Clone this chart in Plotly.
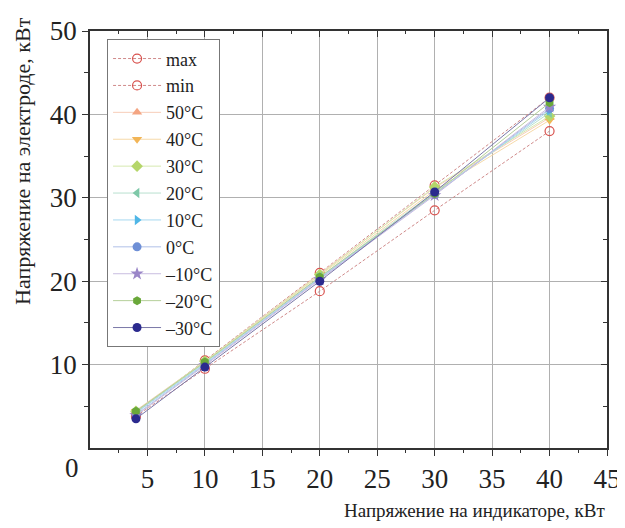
import plotly.graph_objects as go

x_vals = [4, 10, 20, 30, 40]

series_names = ["max", "min", "50°C", "40°C", "30°C", "20°C", "10°C", "0°C", "–10°C", "–20°C", "–30°C"]
max_vals = [4.2, 10.5, 21.0, 31.5, 42.0]
min_vals = [3.8, 9.5, 18.8, 28.5, 38.0]
t50 = [4.5, 10.4, 20.9, 31.2, 39.6]
t40 = [4.4, 10.3, 20.7, 30.9, 39.3]
t30 = [4.4, 10.4, 20.8, 31.3, 39.8]
t20 = [4.3, 10.2, 20.5, 30.7, 40.2]
t10 = [4.2, 10.1, 20.4, 30.5, 40.5]
t0 = [4.0, 10.0, 20.3, 30.4, 40.7]
tm10 = [3.9, 9.9, 20.2, 30.3, 40.9]
tm20 = [4.4, 10.3, 20.5, 30.5, 41.4]
tm30 = [3.5, 9.7, 20.0, 30.7, 42.0]

x_ticks = [5, 10, 15, 20, 25, 30, 35, 40, 45]
y_ticks = [10, 20, 30, 40, 50]
x_minor = [2.5, 7.5, 12.5, 17.5, 22.5, 27.5, 32.5, 37.5, 42.5]
y_minor = [5, 15, 25, 35, 45]

series_values = [max_vals, min_vals, t50, t40, t30, t20, t10, t0, tm10, tm20, tm30]
marker_colors = ["#d9534f", "#d9534f", "#f4a582", "#f2b556", "#b5d66a", "#7ec8a8",
                 "#4fb6e6", "#6e8fd6", "#9a86c8", "#6aa83a", "#2b2a8e"]
line_colors = ["#d08a8a", "#d08a8a", "#f7cdb8", "#f6d9a8", "#d6e9b0", "#b8e0cf",
               "#a6d8f0", "#b0c0e8", "#c9bde0", "#b5cf9a", "#7a78a8"]
symbols = ["circle-open", "circle-open", "triangle-up", "triangle-down", "diamond",
           "triangle-left", "triangle-right", "circle", "star", "hexagon", "circle"]

fig = go.Figure()
for i, (name, vals) in enumerate(zip(series_names, series_values)):
    dashed = i < 2
    fig.add_trace(go.Scatter(
        x=x_vals, y=vals, name=name, mode="lines+markers",
        legendgroup=name,
        line=dict(color=line_colors[i], width=1, dash="3px,2px" if dashed else "solid"),
        marker=dict(symbol=symbols[i], size=9 if i != 8 else 10,
                    color=marker_colors[i],
                    line=dict(color=marker_colors[i], width=1.2 if dashed else 0)),
    ))

serif = "Liberation Serif"
fig.update_layout(
    width=617, height=520,
    margin=dict(l=82, r=18, t=23, b=80),
    paper_bgcolor="white", plot_bgcolor="white",
    font=dict(family=serif, size=20, color="#222"),
    showlegend=True,
    legend=dict(x=0.033, y=0.98, xanchor="left", yanchor="top",
                bgcolor="white", bordercolor="#777", borderwidth=1,
                font=dict(family=serif, size=18, color="#222"),
                tracegroupgap=0.5, itemwidth=48),
    xaxis=dict(range=[0, 45], tickvals=x_ticks, ticks="outside", ticklen=6,
               tickcolor="#333", showline=True, linecolor="#333", linewidth=1.5,
               showgrid=True, gridcolor="#b0b0b0", gridwidth=1, zeroline=False,
               automargin=False,
               minor=dict(tickvals=x_minor, ticks="outside", ticklen=3,
                          tickcolor="#333", showgrid=False),
               tickfont=dict(family=serif, size=27)),
    yaxis=dict(range=[0, 50], tickvals=y_ticks, ticks="outside", ticklen=6,
               tickcolor="#333", showline=True, linecolor="#333", linewidth=1.5,
               showgrid=True, gridcolor="#b0b0b0", gridwidth=1, zeroline=False,
               automargin=False,
               minor=dict(tickvals=y_minor, ticks="outside", ticklen=4,
                          tickcolor="#333", showgrid=False),
               tickfont=dict(family=serif, size=27)),
    xaxis2=dict(range=[0, 45], overlaying="x", side="top", tickvals=x_ticks,
                ticks="inside", ticklen=6, tickcolor="#333", showticklabels=False,
                showline=True, linecolor="#333", linewidth=1.5, showgrid=False,
                zeroline=False, automargin=False,
                minor=dict(tickvals=x_minor, ticks="inside", ticklen=3, tickcolor="#333")),
    yaxis2=dict(range=[0, 50], overlaying="y", side="right", tickvals=y_ticks,
                ticks="inside", ticklen=6, tickcolor="#333", showticklabels=False,
                showline=True, linecolor="#333", linewidth=1.5, showgrid=False,
                zeroline=False, automargin=False,
                minor=dict(tickvals=y_minor, ticks="inside", ticklen=4, tickcolor="#333")),
    annotations=[
        dict(text="Напряжение на индикаторе, кВт", xref="paper", yref="paper",
             x=1.0, y=-0.15, xanchor="right", yanchor="middle", showarrow=False,
             font=dict(family=serif, size=19, color="#222")),
        dict(text="Напряжение на электроде, кВт", xref="paper", yref="paper",
             x=-0.132, y=1.038, xanchor="center", yanchor="top", textangle=-90,
             showarrow=False, font=dict(family=serif, size=22, color="#222")),
        dict(text="0", xref="paper", yref="paper", x=-0.035, y=-0.048,
             xanchor="center", yanchor="middle", showarrow=False,
             font=dict(family=serif, size=27, color="#222")),
    ],
)
fig.add_trace(go.Scatter(x=[0], y=[0], xaxis="x2", yaxis="y2", mode="markers",
                         marker=dict(opacity=0), showlegend=False, hoverinfo="skip"))

fig.write_html("out.html")
